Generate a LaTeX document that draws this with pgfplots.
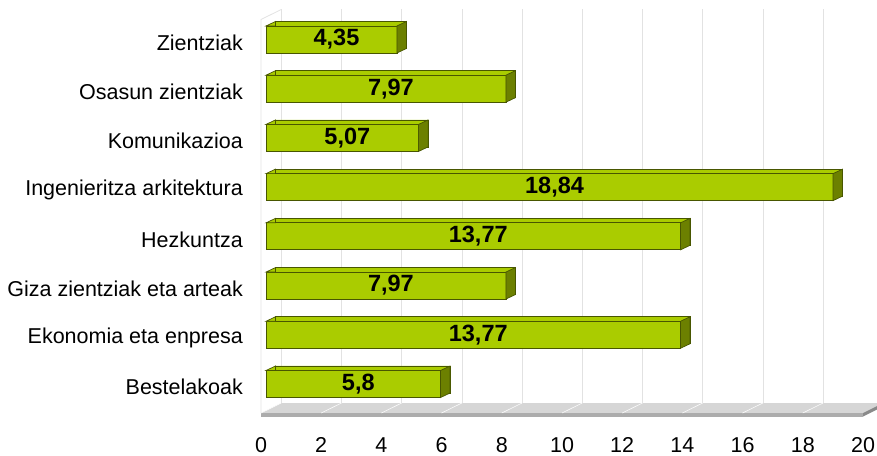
\documentclass[border=0pt]{standalone}
\usepackage{fontspec}
\setmainfont{Liberation Sans}
\usepackage{pgfplots}
\usepackage{pgfplotstable}
\pgfplotsset{compat=1.18}

\definecolor{barfront}{RGB}{170,204,0}
\definecolor{barside}{RGB}{108,128,0}
\definecolor{barline}{RGB}{72,86,0}
\definecolor{gridgray}{RGB}{226,226,226}
\definecolor{floortop}{RGB}{214,214,214}
\definecolor{floorfront}{RGB}{172,172,172}

% right face of a bar, drawn at the bar end
\pgfdeclareplotmark{sideface}{%
  \pgfpathmoveto{\pgfpoint{0pt}{-13.5pt}}%
  \pgfpathlineto{\pgfpoint{9.5pt}{-9pt}}%
  \pgfpathlineto{\pgfpoint{9.5pt}{18pt}}%
  \pgfpathlineto{\pgfpoint{0pt}{13.5pt}}%
  \pgfpathclose
  \pgfusepathqfillstroke}
% slanted corner of the top face, drawn at the bar start
\pgfdeclareplotmark{topcorner}{%
  \pgfpathmoveto{\pgfpoint{0pt}{13.5pt}}%
  \pgfpathlineto{\pgfpoint{9.5pt}{18pt}}%
  \pgfpathlineto{\pgfpoint{9.5pt}{13.5pt}}%
  \pgfpathclose
  \pgfusepathqfillstroke}

\pgfplotstableread{
pos v
0 5.8
1 13.77
2 7.97
3 13.77
4 18.84
5 5.07
6 7.97
7 4.35
}\fields

\begin{document}
\begin{tikzpicture}
\begin{axis}[
  scale only axis, width=602pt, height=393.5pt,
  xmin=0, xmax=20, ymin=-0.5385, ymax=7.457,
  axis line style={draw=none},
  major tick length=0pt,
  xtick={0,2,...,20},
  ytick={0,...,7},
  yticklabels={Bestelakoak, Ekonomia eta enpresa, Giza zientziak eta arteak,
    Hezkuntza, Ingenieritza arkitektura, Komunikazioa, Osasun zientziak, Zientziak},
  xmajorgrids,
  grid style={gridgray, line width=0.8pt, xshift=15.3pt, yshift=7.5pt},
  tick label style={font=\fontsize{21.5}{24}\selectfont},
  xticklabel style={inner sep=0pt, anchor=base, yshift=-41.5pt, xshift=-5pt},
  yticklabel style={inner sep=0pt, anchor=east, xshift=-23pt, yshift=-3pt},
  /pgf/number format/assume math mode=true,
  /pgf/number format/use comma,
  clip=false,
  set layers,
]
% floor and left wall
\begin{pgfonlayer}{axis background}
  \fill[floortop] ([shift={(-5pt,-2.5pt)}]rel axis cs:0,0)
    -- ([shift={(-5pt,-2.5pt)}]rel axis cs:1,0)
    -- ([shift={(15.3pt,7.5pt)}]rel axis cs:1,0)
    -- ([shift={(15.3pt,7.5pt)}]rel axis cs:0,0) -- cycle;
  \fill[floorfront] ([shift={(-5pt,-2.5pt)}]rel axis cs:0,0)
    -- ([shift={(-5pt,-2.5pt)}]rel axis cs:1,0)
    -- ([shift={(-5pt,-6pt)}]rel axis cs:1,0)
    -- ([shift={(-5pt,-6pt)}]rel axis cs:0,0) -- cycle;
  \fill[floorfront!80!black] ([shift={(-5pt,-2.5pt)}]rel axis cs:1,0)
    -- ([shift={(15.3pt,7.5pt)}]rel axis cs:1,0)
    -- ([shift={(15.3pt,4pt)}]rel axis cs:1,0)
    -- ([shift={(-5pt,-6pt)}]rel axis cs:1,0) -- cycle;
  \pgfplotsinvokeforeach{0,2,4,6,8,10,12,14,16,18}{
    \draw[white!92!floortop, line width=0.6pt]
      ([shift={(15.3pt,7.5pt)}]axis cs:#1,-0.5385)
      -- ([shift={(-5pt,-2.5pt)}]axis cs:#1,-0.5385);
  }
  \draw[gridgray, line width=0.8pt] ([shift={(-5pt,-2.5pt)}]rel axis cs:0,0)
    -- ([shift={(-5pt,-2.5pt)}]rel axis cs:0,1)
    -- ([shift={(15.3pt,7.5pt)}]rel axis cs:0,1);
\end{pgfonlayer}

% back of the bars (top face)
\addplot[xbar, bar width=27pt, fill=barfront, draw=barline, line width=0.7pt,
  xshift=9.5pt, yshift=4.5pt] table[x=v, y=pos] {\fields};
% right faces
\addplot[only marks, mark=sideface,
  mark options={fill=barside, draw=barline, line width=0.7pt}]
  table[x=v, y=pos] {\fields};
\addplot[only marks, mark=topcorner,
  mark options={fill=barfront, draw=barline, line width=0.7pt}]
  table[x expr=0, y=pos] {\fields};
% front faces
\addplot[xbar, bar width=27pt, fill=barfront, draw=barline, line width=0.7pt]
  table[x=v, y=pos] {\fields};
% value labels
\addplot[draw=none, mark=none, point meta=explicit,
  nodes near coords={\pgfmathprintnumber[fixed, precision=2, use comma]{\pgfplotspointmeta}},
  every node near coord/.append style={anchor=center, xshift=5pt,
    font=\fontsize{23.5}{26}\selectfont\bfseries}]
  table[x expr=\thisrow{v}/2, y=pos, meta=v] {\fields};
\end{axis}
\pgfresetboundingbox
\useasboundingbox (-266pt,-44.5pt) rectangle (611pt,410.5pt);
\end{tikzpicture}
\end{document}
